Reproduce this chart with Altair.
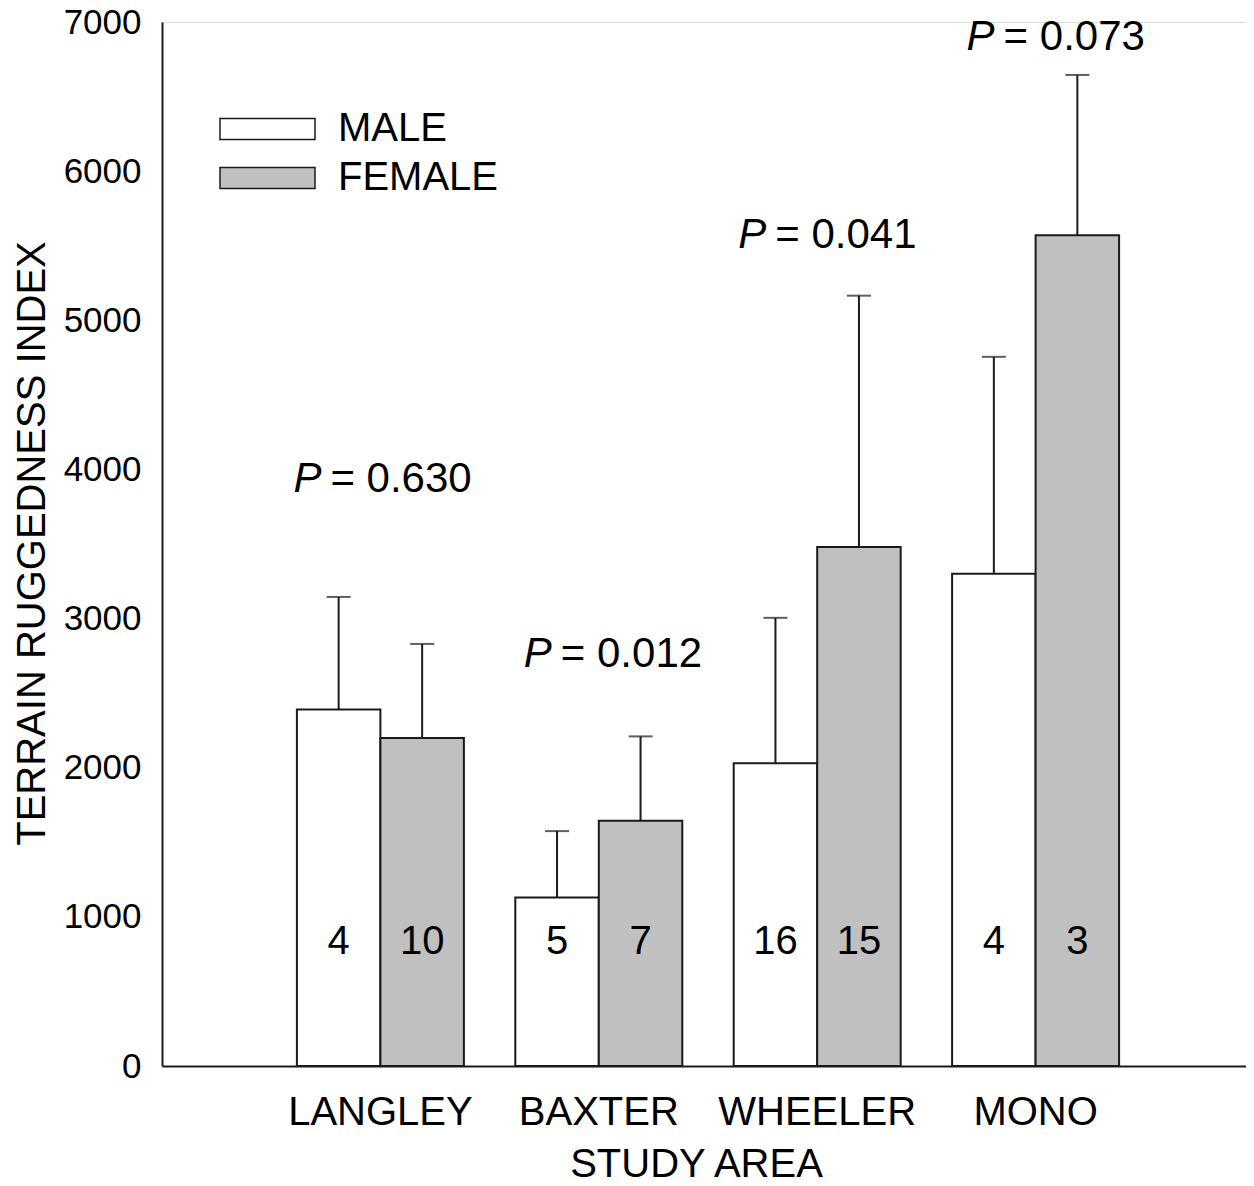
import altair as alt
import pandas as pd

areas = ["LANGLEY", "BAXTER", "WHEELER", "MONO"]
sexes = ["MALE", "FEMALE"]
male_mean = [2390, 1130, 2030, 3300]
male_err = [3145, 1575, 3005, 4755]
female_mean = [2200, 1645, 3480, 5570]
female_err = [2830, 2210, 5165, 6645]
male_n = [4, 5, 16, 4]
female_n = [10, 7, 15, 3]
p_values = ["0.630", "0.012", "0.041", "0.073"]
p_label_y = [3937, 2760, 5570, 6900]
count_label_y = 830

rows = []
for i, a in enumerate(areas):
    rows.append({"area": a, "sex": "MALE", "mean": male_mean[i], "err": male_err[i], "n": str(male_n[i])})
    rows.append({"area": a, "sex": "FEMALE", "mean": female_mean[i], "err": female_err[i], "n": str(female_n[i])})
df = pd.DataFrame(rows)
pdf = pd.DataFrame({"area": areas, "py": p_label_y,
                    "ptxt": ["P"] * 4, "vtxt": ["= " + v for v in p_values]})

FONT = "Liberation Sans"
INK = "#1a1a1a"

xenc = alt.X("area:N", sort=areas,
             scale=alt.Scale(domain=areas, paddingInner=0, paddingOuter=0.4817, align=0.519),
             axis=alt.Axis(title="STUDY AREA", labelAngle=0, labelFontSize=40, titleFontSize=40,
                           labelFont=FONT, titleFont=FONT, labelColor="black", titleColor="black",
                           titleFontWeight="normal", ticks=False, tickSize=0, labelPadding=26,
                           labelLimit=0, domainColor=INK, domainWidth=2, titleX=534, titleY=78))
xoff = alt.XOffset("sex:N", sort=sexes, scale=alt.Scale(domain=sexes, paddingOuter=0.3078, paddingInner=0))
yscale = alt.Scale(domain=[0, 7000], nice=False)
yaxis = alt.Axis(title="TERRAIN RUGGEDNESS INDEX", values=list(range(0, 7001, 1000)), format="d",
                 grid=False, ticks=False, tickSize=0, labelFontSize=35, titleFontSize=40, labelFont=FONT,
                 titleFont=FONT, labelColor="black", titleColor="black", titleFontWeight="normal",
                 labelPadding=21, titleAngle=270, titleBaseline="alphabetic", titleAlign="center",
                 titleX=-118, titleY=521, domainColor=INK, domainWidth=2)

legend_path = "M-1.727,-0.955H6.909V0.955H-1.727Z"

bars = alt.Chart(df).mark_bar(stroke=INK, strokeWidth=2).encode(
    x=xenc, xOffset=xoff,
    y=alt.Y("mean:Q", scale=yscale, axis=yaxis),
    fill=alt.Fill("sex:N", sort=sexes,
                  scale=alt.Scale(domain=sexes, range=["#ffffff", "#c0c0c0"]),
                  legend=alt.Legend(title=None, orient="none", legendX=35, legendY=65,
                                    fillColor="white", padding=22, labelFontSize=40, labelFont=FONT,
                                    labelColor="black", labelLimit=0, symbolType=legend_path,
                                    symbolSize=484, symbolStrokeColor=INK, symbolStrokeWidth=1.5,
                                    labelOffset=79, rowPadding=9, symbolOpacity=1)),
)

rules = alt.Chart(df).mark_rule(color=INK, strokeWidth=2).encode(
    x=alt.X("area:N", sort=areas), xOffset=alt.XOffset("sex:N", sort=sexes),
    y="mean:Q", y2="err:Q",
)

caps = alt.Chart(df).mark_tick(color=INK, thickness=2, size=24, orient="horizontal").encode(
    x=alt.X("area:N", sort=areas), xOffset=alt.XOffset("sex:N", sort=sexes),
    y="err:Q",
)

counts = alt.Chart(df).mark_text(fontSize=40, font=FONT, color="black", baseline="middle").encode(
    x=alt.X("area:N", sort=areas), xOffset=alt.XOffset("sex:N", sort=sexes),
    y=alt.datum(count_label_y), text="n:N",
)

# hand-placed annotation nudges (pixels) for the P-value labels, as in the original figure
p_nudge = {"LANGLEY": -13, "BAXTER": -1, "WHEELER": -5, "MONO": 5}
p_layers = []
for a in areas:
    base = alt.Chart(pdf).transform_filter(alt.datum.area == a)
    p_layers.append(base.mark_text(fontSize=42, font=FONT, fontStyle="italic", color="black",
                                   align="right", baseline="middle", dx=-46 + p_nudge[a]).encode(
        x=alt.X("area:N", sort=areas), y="py:Q", text="ptxt:N"))
    p_layers.append(base.mark_text(fontSize=42, font=FONT, color="black",
                                   align="left", baseline="middle", dx=-37 + p_nudge[a]).encode(
        x=alt.X("area:N", sort=areas), y="py:Q", text="vtxt:N"))

chart = alt.layer(bars, rules, caps, counts, *p_layers).properties(
    width=1084, height=1044,
    autosize=alt.AutoSizeParams(type="none"),
    padding={"left": 154, "top": 14, "right": 0, "bottom": 112},
).configure_view(fill="#fffff2", stroke=None).configure(font=FONT)

chart.save("out.html", embed_options={"renderer": "svg", "actions": False})
